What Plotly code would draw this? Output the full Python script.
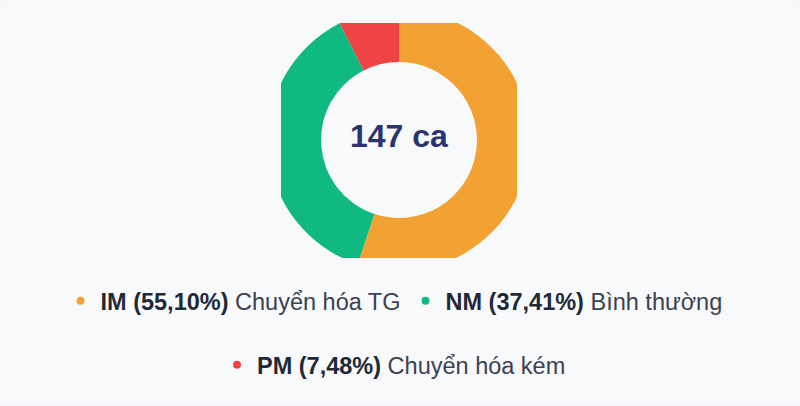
import plotly.graph_objects as go

# dữ liệu kiểu chuyển hóa
labels = ["IM", "NM", "PM"]
descriptions = ["Chuyển hóa TG", "Bình thường", "Chuyển hóa kém"]
counts = [81, 55, 11]
colors = ["#f2a232", "#10b981", "#ef4444"]

total = sum(counts)
percents = [c / total * 100 for c in counts]

W, H = 800, 406
BG = "#f8f9fb"

# vòng tròn: tâm và bán kính (px), khung cắt của hộp chứa
cx, cy, R = 399, 140, 131
clip_l, clip_r, clip_t, clip_b = 281, 517, 23, 258

fig = go.Figure()

fig.add_trace(go.Pie(
    labels=labels,
    values=counts,
    hole=0.595,
    sort=False,
    direction="clockwise",
    rotation=0,
    marker=dict(colors=colors, line=dict(width=0)),
    textinfo="none",
    hoverinfo="label+percent",
    showlegend=False,
    domain=dict(x=[(cx - R) / W, (cx + R) / W], y=[(H - cy - R) / H, (H - cy + R) / H]),
))

# chú thích: hàng 1 (IM, NM), hàng 2 (PM)
for i, lab in enumerate(labels):
    pct = f"{percents[i]:.2f}".replace(".", ",")
    fig.add_trace(go.Scatter(
        x=[None], y=[None],
        mode="markers",
        marker=dict(size=8, color=colors[i]),
        name=f"<span style='color:#1f2937'><b>{lab} ({pct}%)</b></span> {descriptions[i]}",
        legend="legend" if i < 2 else "legend2",
        showlegend=True,
    ))


def px_x(x):
    return x / W


def px_y(y):
    return (H - y) / H


shapes = [
    # nền thẻ
    dict(type="rect", xref="paper", yref="paper", x0=0, x1=1, y0=0, y1=1,
         fillcolor=BG, line=dict(color="#f0f1f4", width=1), layer="below"),
    # cắt vòng tròn theo khung chứa
    dict(type="rect", xref="paper", yref="paper", x0=px_x(clip_l - 40), x1=px_x(clip_l),
         y0=px_y(clip_b + 20), y1=px_y(clip_t - 20), fillcolor=BG, line=dict(width=0), layer="above"),
    dict(type="rect", xref="paper", yref="paper", x0=px_x(clip_r), x1=px_x(clip_r + 40),
         y0=px_y(clip_b + 20), y1=px_y(clip_t - 20), fillcolor=BG, line=dict(width=0), layer="above"),
    dict(type="rect", xref="paper", yref="paper", x0=px_x(clip_l - 40), x1=px_x(clip_r + 40),
         y0=px_y(clip_t), y1=px_y(clip_t - 20), fillcolor=BG, line=dict(width=0), layer="above"),
    dict(type="rect", xref="paper", yref="paper", x0=px_x(clip_l - 40), x1=px_x(clip_r + 40),
         y0=px_y(clip_b + 20), y1=px_y(clip_b), fillcolor=BG, line=dict(width=0), layer="above"),
]

legend_font = dict(family="Liberation Sans, Arial, sans-serif", size=23.5, color="#3b4250")

fig.update_layout(
    width=W,
    height=H,
    margin=dict(l=0, r=0, t=0, b=0),
    paper_bgcolor=BG,
    plot_bgcolor="rgba(0,0,0,0)",
    xaxis=dict(visible=False),
    yaxis=dict(visible=False),
    shapes=shapes,
    annotations=[dict(
        text=f"<b>{total} ca</b>",
        x=px_x(cx), y=px_y(136),
        xref="paper", yref="paper",
        xanchor="center", yanchor="middle",
        showarrow=False,
        font=dict(family="Liberation Sans, Arial, sans-serif", size=32, color="#2b3470"),
    )],
    legend=dict(
        orientation="h", x=px_x(394), xanchor="center", y=px_y(301), yanchor="middle",
        bgcolor="rgba(0,0,0,0)", font=legend_font, itemclick=False,
    ),
    legend2=dict(
        orientation="h", x=px_x(394), xanchor="center", y=px_y(365), yanchor="middle",
        bgcolor="rgba(0,0,0,0)", font=legend_font, itemclick=False,
    ),
)

fig.write_html(
    "out.html",
    config={"displayModeBar": False},
    post_script="document.body.style.margin='0';",
)
